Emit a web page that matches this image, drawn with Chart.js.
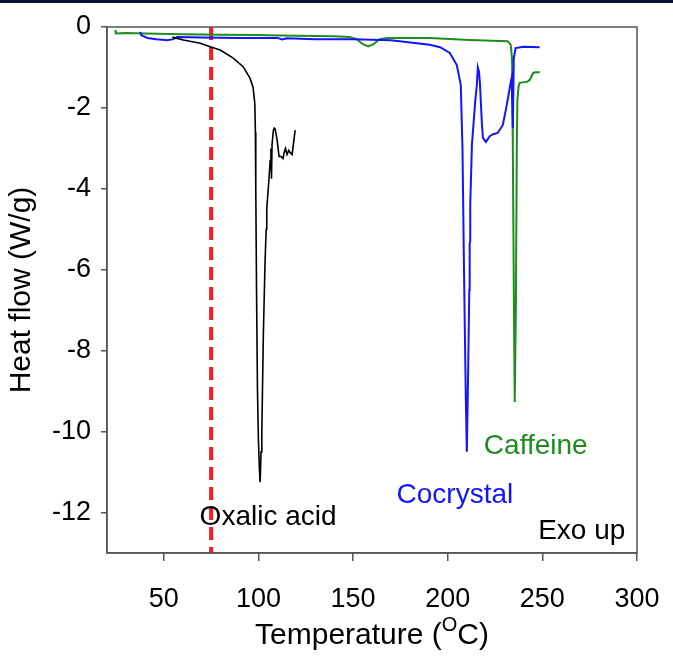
<!DOCTYPE html>
<html>
<head>
<meta charset="utf-8">
<script src="https://cdn.jsdelivr.net/npm/chart.js@4/dist/chart.umd.min.js"></script>
<style>
html,body{margin:0;padding:0;background:#fff;}
canvas{display:block;}
</style>
</head>
<body>
<canvas id="c" width="673" height="657"></canvas>
<script>
// ---- data ----
const oxalicT = [54.5,60.3,69.3,74.5,79.8,86.7,91.9,95.6,97.2,98.1,98.4,98.6,99.0,99.5,100.0,100.5,100.9,101.4,101.8,102.6,103.5,104.1,104.4,105.5,106.2,106.6,106.9,107.2,107.9,108.4,108.8,109.9,110.9,112.0,113.0,113.6,114.3,115.1,116.0,116.7,117.8,119.4];
const oxalicHF = [-0.25,-0.32,-0.40,-0.49,-0.57,-0.77,-0.98,-1.27,-1.5,-1.9,-2.6,-4.0,-6.5,-9.0,-10.2,-10.9,-11.25,-10.5,-10.0,-7.6,-5.8,-5.0,-4.5,-3.8,-3.3,-3.0,-3.75,-2.9,-2.55,-2.5,-2.52,-2.8,-3.2,-3.2,-3.25,-3.1,-3.0,-3.15,-3.05,-3.1,-3.15,-2.55];

const cocrystalT = [37.6,38.0,41.3,46,51.9,55,57.1,70,90,110,112.5,115,130,150,170,190.5,196,201.1,204.8,206.9,207.8,208.6,209.5,210.1,210.8,211.4,211.6,211.9,211.9,212.8,214.6,215.4,215.9,216.5,217.0,218.1,218.6,220.2,222.2,224,226.4,229.1,231.2,233.3,233.8,234.4,234.9,235.9,240,248.6];
const cocrystalHF = [-0.12,-0.2,-0.27,-0.3,-0.33,-0.3,-0.25,-0.26,-0.27,-0.27,-0.31,-0.28,-0.3,-0.3,-0.33,-0.44,-0.5,-0.64,-0.94,-1.43,-3.0,-6.0,-9.0,-10.5,-8.5,-6.5,-5.35,-5.3,-4.4,-2.9,-1.8,-1.43,-1.0,-1.1,-1.38,-2.42,-2.74,-2.84,-2.7,-2.65,-2.62,-2.42,-1.93,-1.36,-1.26,-2.5,-0.77,-0.52,-0.49,-0.5];

const caffeineT = [24.4,24.6,30,40,60,80,100,111.5,140,148,152,155,158,161,164,168,190.5,211.6,231.7,233.3,234.0,234.4,235.0,235.4,236.0,236.5,236.8,237.5,238.0,242.2,243.5,244.9,246,248.6];
const caffeineHF = [-0.08,-0.16,-0.15,-0.16,-0.18,-0.19,-0.2,-0.21,-0.23,-0.25,-0.3,-0.42,-0.48,-0.42,-0.3,-0.27,-0.27,-0.32,-0.35,-0.44,-0.8,-3.0,-7.0,-9.27,-7.0,-3.0,-1.8,-1.45,-1.38,-1.35,-1.3,-1.15,-1.12,-1.12];

const markerT = [75, 75];
const markerHF = [0, -13];

const xTicks = [50,100,150,200,250,300];
const yTicks = [0,-2,-4,-6,-8,-10,-12];

const labels = [
  {text:'Caffeine', x:246.5, y:-10.36, color:'#1e8c1e'},
  {text:'Cocrystal', x:203.8, y:-11.57, color:'#1414ff'},
  {text:'Oxalic acid', x:105.1, y:-12.11, color:'#000'},
  {text:'Exo up', x:270.8, y:-12.46, color:'#000'}
];

const pts = (xs, ys) => xs.map((x,i)=>({x:x, y:ys[i]}));
const FONT = '"Liberation Sans", Arial, Helvetica, sans-serif';

const deco = {
  id:'deco',
  beforeDraw(chart){
    const ctx = chart.ctx;
    ctx.save();
    ctx.fillStyle = '#fff';
    ctx.fillRect(0,0,chart.width,chart.height);
    ctx.fillStyle = '#0b1030';
    ctx.fillRect(0,0,chart.width,3);
    ctx.restore();
  },
  afterDraw(chart){
    const ctx = chart.ctx, a = chart.chartArea;
    const xs = chart.scales.x, ys = chart.scales.y;
    ctx.save();
    ctx.strokeStyle = '#555';
    ctx.lineWidth = 1.5;
    ctx.strokeRect(a.left, a.top, a.right - a.left, a.bottom - a.top);
    ctx.textBaseline = 'middle';
    ctx.textAlign = 'center';
    ctx.font = '28px ' + FONT;
    labels.forEach(l=>{
      ctx.fillStyle = l.color;
      ctx.fillText(l.text, xs.getPixelForValue(l.x), ys.getPixelForValue(l.y));
    });
    // x-axis title with superscript
    const p1 = 'Temperature (', sup = 'O', p2 = 'C)';
    ctx.fillStyle = '#000';
    ctx.font = '30px ' + FONT;
    const w1 = ctx.measureText(p1).width, w2 = ctx.measureText(p2).width;
    ctx.font = '20px ' + FONT;
    const ws = ctx.measureText(sup).width;
    const total = w1 + ws + w2;
    let cx = (a.left + a.right)/2 - total/2;
    const cy = 636;
    ctx.textAlign = 'left';
    ctx.font = '30px ' + FONT;
    ctx.fillText(p1, cx, cy);
    ctx.font = '20px ' + FONT;
    ctx.fillText(sup, cx + w1, cy - 11);
    ctx.font = '30px ' + FONT;
    ctx.fillText(p2, cx + w1 + ws, cy);
    ctx.restore();
  }
};

new Chart(document.getElementById('c'), {
  type:'line',
  data:{
    datasets:[
      {label:'Oxalic acid', data:pts(oxalicT, oxalicHF), borderColor:'#000', borderWidth:1.6},
      {label:'Cocrystal', data:pts(cocrystalT, cocrystalHF), borderColor:'#1414ff', borderWidth:2},
      {label:'Caffeine', data:pts(caffeineT, caffeineHF), borderColor:'#1e8c1e', borderWidth:2},
      {label:'marker', data:pts(markerT, markerHF), borderColor:'#ff1a1a', borderWidth:4, borderDash:[13,7]}
    ]
  },
  options:{
    responsive:false,
    animation:false,
    events:[],
    parsing:true,
    elements:{point:{radius:0}, line:{tension:0}},
    layout:{padding:{left:0, top:27, right:36, bottom:0}},
    plugins:{legend:{display:false}, tooltip:{enabled:false}},
    scales:{
      x:{
        type:'linear', min:20, max:300,
        afterBuildTicks(s){ s.ticks = xTicks.map(v=>({value:v})); },
        afterFit(s){ s.height = 104; s.paddingLeft = 0; s.paddingRight = 0; },
        grid:{display:true, drawOnChartArea:false, drawTicks:true, tickLength:8, color:'#555', lineWidth:1.5},
        border:{display:true, color:'#555', width:1.5},
        ticks:{color:'#000', font:{size:27, family:FONT}, padding:22, maxRotation:0, autoSkip:false}
      },
      y:{
        type:'linear', min:-13, max:0,
        afterBuildTicks(s){ s.ticks = yTicks.map(v=>({value:v})); },
        afterFit(s){ s.width = 107; s.paddingTop = 0; s.paddingBottom = 0; },
        grid:{display:true, drawOnChartArea:false, drawTicks:true, tickLength:6, color:'#555', lineWidth:1.5},
        border:{display:true, color:'#555', width:1.5},
        ticks:{color:'#000', font:{size:27, family:FONT}, padding:10, autoSkip:false},
        title:{display:true, text:'Heat flow (W/g)', color:'#000', font:{size:30, family:FONT}, padding:{top:4, bottom:0}}
      }
    }
  },
  plugins:[deco]
});
</script>
</body>
</html>
